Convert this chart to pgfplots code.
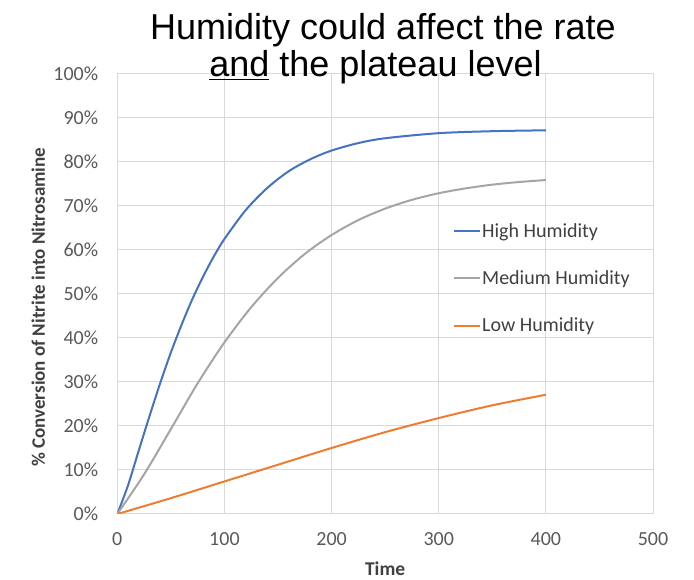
\documentclass[border=0pt]{standalone}
\usepackage{pgfplots}
\pgfplotsset{compat=1.18}
\usepackage{fontspec}
\setmainfont{Carlito}
\newfontfamily\titlefont{Liberation Sans}
\definecolor{hiblue}{HTML}{4472C4}
\definecolor{medgray}{HTML}{A5A5A5}
\definecolor{loorange}{HTML}{ED7D31}
\definecolor{gridc}{HTML}{D9D9D9}
\definecolor{tickc}{HTML}{595959}
\definecolor{labc}{HTML}{404040}
\begin{document}
\begin{tikzpicture}
\path[use as bounding box] (-117.3pt,-66pt) rectangle (576.7pt,514pt);
\begin{axis}[
  scale only axis, width=535.7pt, height=440pt,
  xmin=0, xmax=500, ymin=0, ymax=100,
  xtick={0,100,200,300,400,500},
  xticklabels={0,100,200,300,400,500},
  ytick={0,10,20,30,40,50,60,70,80,90,100},
  yticklabels={0\%,10\%,20\%,30\%,40\%,50\%,60\%,70\%,80\%,90\%,100\%},
  grid=major, major grid style={gridc, line width=1pt},
  axis line style={gridc, line width=1pt},
  major tick length=0pt,
  tick label style={font=\fontsize{20}{24}\selectfont, text=tickc},
  yticklabel style={anchor=east, inner sep=0pt, xshift=-19pt},
  xticklabel style={anchor=north, inner sep=0pt, yshift=-18pt},
  xlabel={\bfseries Time},
  xlabel style={at={(axis description cs:0.5,0)}, anchor=center, yshift=-55pt, font=\fontsize{19.5}{23}\selectfont, text=labc},
  ylabel={\bfseries \% Conversion of Nitrite into Nitrosamine},
  ylabel style={at={(axis description cs:-0.1475,0.47)}, anchor=center, font=\fontsize{19}{23}\selectfont, text=labc},
  legend image code/.code={\draw[#1] (0pt,0pt) -- (26pt,0pt);},
  legend style={at={(axis cs:310.5,66.6)}, anchor=north west, draw=none, fill=none,
    font=\fontsize{20}{24}\selectfont, text=labc, row sep=32pt, column sep=1pt,
    nodes={inner sep=0pt}},
  legend cell align=left,
  every axis plot/.append style={line width=2pt, smooth},
]
\addplot[hiblue] coordinates {
(0,0) (10,6.5) (20,14.4) (30,22.2) (40,29.7) (50,36.7) (60,43.0) (70,48.8) (80,53.9) (90,58.5)
(100,62.5) (120,69.1) (140,74.1) (160,77.9) (180,80.6) (200,82.6) (225,84.3) (250,85.4)
(300,86.55) (350,87.0) (400,87.2)};
\addlegendentry{High Humidity}
\addplot[medgray] coordinates {
(0,0) (25,9) (50,19.3) (75,29.7) (100,39) (125,47) (150,53.65) (175,59.1) (200,63.4)
(225,66.8) (250,69.4) (275,71.4) (300,72.9) (325,74.0) (350,74.85) (375,75.45) (400,75.9)};
\addlegendentry{Medium Humidity}
\addplot[loorange] coordinates {
(0,0) (50,3.6) (100,7.4) (150,11.2) (200,15) (250,18.6) (300,21.8) (350,24.7) (400,27.1)};
\addlegendentry{Low Humidity}
\end{axis}
\node[anchor=base, font=\titlefont\fontsize{36}{40}\selectfont] at (265.7pt,474pt) {Humidity could affect the rate};
\node[anchor=base, font=\titlefont\fontsize{36}{40}\selectfont] at (258.2pt,437pt) {\underline{and} the plateau level};
\end{tikzpicture}
\end{document}
